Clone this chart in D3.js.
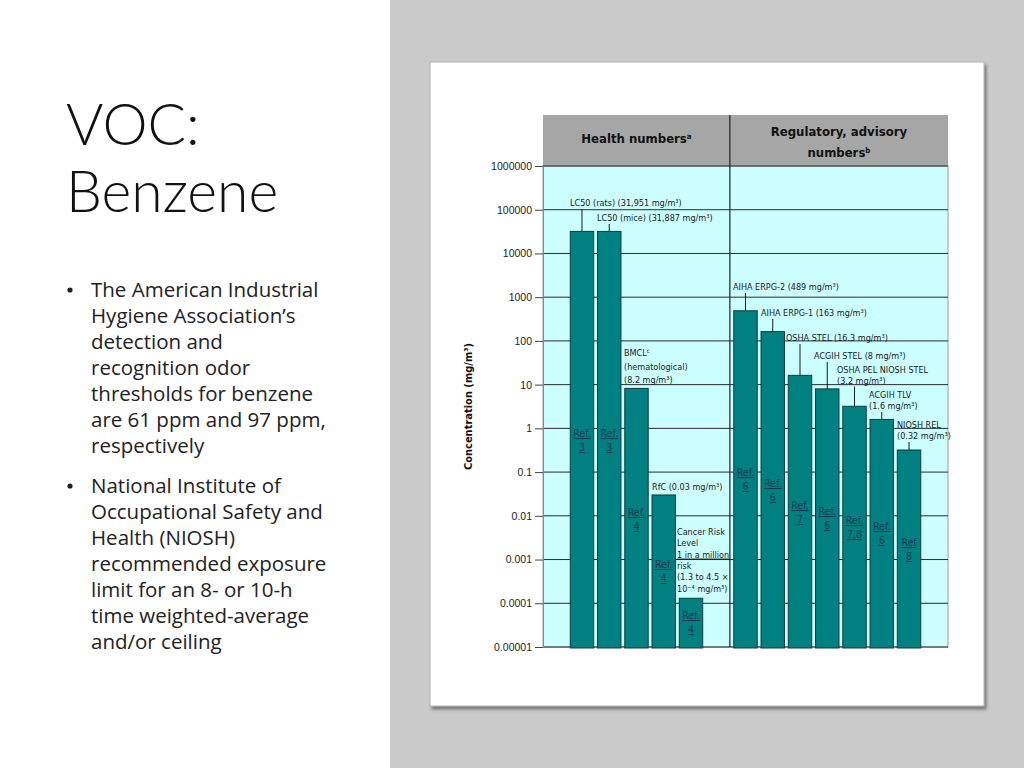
<!DOCTYPE html>
<html><head><meta charset="utf-8">
<script src="https://cdn.jsdelivr.net/npm/d3@7/dist/d3.min.js"></script>
<style>
html,body{margin:0;padding:0;background:#fff;}
svg{display:block;}
</style></head>
<body>
<svg id="chart" width="1024" height="768"></svg>
<script>
// ---------- DATA ----------
const slotKeys = ["padA","LC50 rats","LC50 mice","BMCL","RfC","Cancer risk","padB",
  "AIHA ERPG-2","AIHA ERPG-1","OSHA STEL","ACGIH STEL","OSHA PEL / NIOSH STEL","ACGIH TLV","NIOSH REL","padC"];
const barCategories = ["LC50 rats","LC50 mice","BMCL","RfC","Cancer risk",
  "AIHA ERPG-2","AIHA ERPG-1","OSHA STEL","ACGIH STEL","OSHA PEL / NIOSH STEL","ACGIH TLV","NIOSH REL"];
const barValues = [31951, 31887, 8.2, 0.03, 0.00013, 489, 163, 16.3, 8, 3.2, 1.6, 0.32];
const refNumbers = ["3","3","4","4","4","6","6","7","6","7,8","6","8"];
const refWords = ["Ref.","Ref.","Ref.","Ref.","Ref.","Ref.","Ref.","Ref.","Ref.","Ref.","Ref.","Ref"];
const barLabels = [
  ["LC50 (rats) (31,951 mg/m³)"],
  ["LC50 (mice) (31,887 mg/m³)"],
  ["BMCL|c", "(hematological)", "(8.2 mg/m³)"],
  ["RfC (0.03 mg/m³)"],
  ["Cancer Risk", "Level", "_1 in a million", "risk", "(1.3 to 4.5 ×", "10⁻⁴ mg/m³)"],
  ["AIHA ERPG-2 (489 mg/m³)"],
  ["AIHA ERPG-1 (163 mg/m³)"],
  ["OSHA STEL (16.3 mg/m³)"],
  ["ACGIH STEL (8 mg/m³)"],
  ["OSHA PEL NIOSH STEL", "(3.2 mg/m³)"],
  ["ACGIH TLV", "(1.6 mg/m³)"],
  ["NIOSH REL", "(0.32 mg/m³)"]
];
const tickValues = [1e6,1e5,1e4,1e3,100,10,1,0.1,0.01,0.001,0.0001,0.00001];
const tickLabels = ["1000000","100000","10000","1000","100","10","1","0.1","0.01","0.001","0.0001","0.00001"];
const groupTitles = [["Health numbers|a"], ["Regulatory, advisory", "numbers|b"]];
const yTitle = "Concentration (mg/m³)";
const slideTitle = ["VOC:", "Benzene"];
const bullets = [
  ["The American Industrial","Hygiene Association’s","detection and","recognition odor","thresholds for benzene","are 61 ppm and 97 ppm,","respectively"],
  ["National Institute of","Occupational Safety and","Health (NIOSH)","recommended exposure","limit for an 8- or 10-h","time weighted-average","and/or ceiling"]
];

// ---------- LAYOUT (not data) ----------
const labelPos = [ // left x, first baseline, line step, leader?
  {x:570,y:206,s:11,lead:true},{x:597,y:221,s:11,lead:true},{x:624,y:356,s:13.5,lead:false},
  {x:652,y:490,s:11,lead:false},{x:677,y:535,s:11.3,lead:false},
  {x:733,y:290,s:11,lead:true},{x:761,y:316,s:11,lead:true},{x:786,y:341,s:11,lead:true},
  {x:814,y:359,s:11,lead:true},{x:837,y:373,s:10.5,lead:true},{x:869,y:398,s:11,lead:true},{x:897,y:428,s:11,lead:true}
];
const refY = [437,437,516,568,619,476,487,509,515,524,530,546];

const svg = d3.select("#chart");
const narrow = "'Liberation Sans Narrow','Arial Narrow','DejaVu Sans Condensed',sans-serif";
const arial = "'Liberation Sans',Arial,sans-serif";

// backgrounds
svg.append("rect").attr("x",0).attr("y",0).attr("width",390).attr("height",768).attr("fill","#ffffff");
svg.append("rect").attr("x",390).attr("y",0).attr("width",634).attr("height",768).attr("fill","#c9cac9");
const defs = svg.append("defs");
const f = defs.append("filter").attr("id","sh").attr("x","-5%").attr("y","-5%").attr("width","110%").attr("height","110%");
f.append("feDropShadow").attr("dx",2).attr("dy",3).attr("stdDeviation",1.5).attr("flood-color","#555").attr("flood-opacity",0.7);
svg.append("rect").attr("x",430).attr("y",62).attr("width",554).attr("height",644)
  .attr("fill","#fff").attr("stroke","#b5b5b5").attr("filter","url(#sh)");

// left text
const lt = svg.append("g");
slideTitle.forEach((t,i)=>{
  lt.append("text").attr("x",66).attr("y",145+i*67).attr("font-size",57).attr("font-weight",300)
    .attr("font-family","Lato,'Open Sans',sans-serif").attr("fill","#111").text(t);
});
let by = 297;
bullets.forEach((lines,bi)=>{
  lt.append("circle").attr("cx",70).attr("cy",by-7).attr("r",2.6).attr("fill","#222");
  lines.forEach((l,li)=>{
    lt.append("text").attr("x",91).attr("y",by+li*26).attr("font-size",20.5)
      .attr("font-family","'Open Sans',sans-serif").attr("fill","#222").text(l);
  });
  by += lines.length*26 + 14;
});

// scales
const plotL = 543, plotR = 948, plotT = 166, plotB = 647;
const x = d3.scaleBand().domain(slotKeys).range([plotL, plotR]).paddingInner(0.14).paddingOuter(0);
const y = d3.scaleLog().domain([0.00001, 1000000]).range([plotB, plotT]);
const dividerX = (x("padB")+x.bandwidth() + x("AIHA ERPG-2"))/2 - 2;

// header
svg.append("rect").attr("x",plotL).attr("y",115).attr("width",plotR-plotL).attr("height",plotT-115).attr("fill","#a6a6a6");
function supText(g, str, xx, yy, size){
  const parts = str.split("|");
  const t = g.append("text").attr("x",xx).attr("y",yy).attr("text-anchor","middle")
    .attr("font-family",narrow).attr("font-weight","bold").attr("font-size",size).attr("fill","#111");
  t.append("tspan").text(parts[0]);
  if(parts[1]) t.append("tspan").attr("dy",-4).attr("font-size",size*0.6).text(parts[1]);
  return t;
}
const hdr = svg.append("g");
supText(hdr, groupTitles[0][0], (plotL+dividerX)/2, 143, 13);
supText(hdr, groupTitles[1][0], (dividerX+plotR)/2, 136, 13);
supText(hdr, groupTitles[1][1], (dividerX+plotR)/2, 157, 13);

// plot background
svg.append("rect").attr("x",plotL).attr("y",plotT).attr("width",plotR-plotL).attr("height",plotB-plotT)
  .attr("fill","#ccffff").attr("stroke","#9a9a9a");

// gridlines
svg.append("g").selectAll("line").data(tickValues).join("line")
  .attr("x1",plotL).attr("x2",plotR).attr("y1",d=>y(d)).attr("y2",d=>y(d))
  .attr("stroke","#2a2a2a").attr("stroke-width",1);

// y axis
const yAxis = d3.axisLeft(y).tickValues(tickValues).tickFormat((d,i)=>tickLabels[i]).tickSize(8).tickPadding(3);
const ya = svg.append("g").attr("transform",`translate(${plotL},0)`).call(yAxis);
ya.select(".domain").attr("stroke","#8a8a8a");
ya.selectAll(".tick line").attr("stroke","#444");
ya.selectAll(".tick text").attr("font-family",arial).attr("font-size",10.5).attr("fill","#222");

svg.append("text").attr("transform",`translate(472,${(plotT+plotB)/2}) rotate(-90)`)
  .attr("text-anchor","middle").attr("font-family",narrow).attr("font-weight","bold")
  .attr("font-size",11).attr("fill","#111").text(yTitle);

// divider
svg.append("line").attr("x1",dividerX).attr("x2",dividerX).attr("y1",115).attr("y2",plotB)
  .attr("stroke","#222").attr("stroke-width",1.2);

// bars
const bars = barCategories.map((c,i)=>({c, v:barValues[i], i}));
svg.append("g").selectAll("rect").data(bars).join("rect")
  .attr("x",d=>x(d.c)).attr("width",x.bandwidth())
  .attr("y",d=>y(d.v)).attr("height",d=>plotB+1-y(d.v))
  .attr("fill","#008080").attr("stroke","#0d3d3d").attr("stroke-width",1);

// ref labels
const rg = svg.append("g").attr("font-family",narrow).attr("font-size",10.5).attr("fill","#133a52")
  .attr("text-anchor","middle");
bars.forEach((d,i)=>{
  const cx = x(d.c)+x.bandwidth()/2;
  rg.append("text").attr("x",cx).attr("y",refY[i]).attr("text-decoration","underline").text(refWords[i]);
  rg.append("text").attr("x",cx).attr("y",refY[i]+14).attr("text-decoration","underline").text(refNumbers[i]);
});

// annotation labels + leaders
const ag = svg.append("g").attr("font-family",narrow).attr("font-size",9).attr("fill","#1a1a1a");
bars.forEach((d,i)=>{
  const p = labelPos[i];
  barLabels[i].forEach((line,li)=>{
    let txt = line, under = false;
    if(txt.startsWith("_")){ txt = txt.slice(1); under = true; }
    const parts = txt.split("|");
    const t = ag.append("text").attr("x",p.x).attr("y",p.y+li*p.s);
    if(under) t.attr("text-decoration","underline");
    t.append("tspan").text(parts[0]);
    if(parts[1]) t.append("tspan").attr("dy",-3).attr("font-size",6).text(parts[1]);
  });
  if(p.lead){
    const cx = x(d.c)+x.bandwidth()/2;
    const ly = p.y+(barLabels[i].length-1)*p.s+3;
    ag.append("line").attr("x1",cx).attr("x2",cx).attr("y1",ly).attr("y2",y(d.v))
      .attr("stroke","#1a1a1a").attr("stroke-width",1);
  }
});
</script>
</body></html>
